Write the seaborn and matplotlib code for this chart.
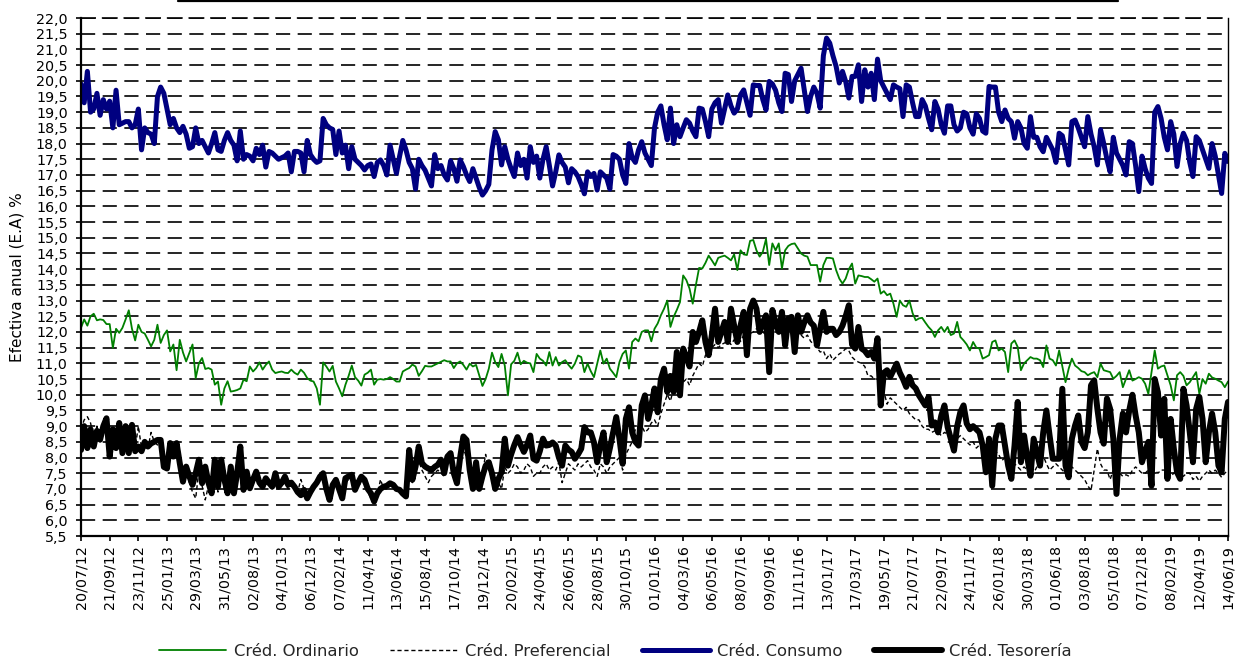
import numpy as np
import pandas as pd
import matplotlib
matplotlib.use("Agg")
import matplotlib.pyplot as plt
import seaborn as sns
from matplotlib.ticker import FixedLocator, FuncFormatter, MultipleLocator
from matplotlib.lines import Line2D

# ---------------- data (weekly) ----------------
tick_labels = ["20/07/12", "21/09/12", "23/11/12", "25/01/13", "29/03/13", "31/05/13",
               "02/08/13", "04/10/13", "06/12/13", "07/02/14", "11/04/14", "13/06/14",
               "15/08/14", "17/10/14", "19/12/14", "20/02/15", "24/04/15", "26/06/15",
               "28/08/15", "30/10/15", "01/01/16", "04/03/16", "06/05/16", "08/07/16",
               "09/09/16", "11/11/16", "13/01/17", "17/03/17", "19/05/17", "21/07/17",
               "22/09/17", "24/11/17", "26/01/18", "30/03/18", "01/06/18", "03/08/18",
               "05/10/18", "07/12/18", "08/02/19", "12/04/19", "14/06/19"]

ordinario = [
    12.13, 12.4, 12.2, 12.5, 12.58, 12.37, 12.4, 12.38, 12.25,
    12.25, 11.49, 12.1, 11.97, 12.13, 12.4, 12.69, 12.1, 11.73,
    12.23, 12.0, 11.95, 11.75, 11.54, 11.75, 12.23, 11.65, 11.9,
    12.05, 11.38, 11.6, 10.78, 11.75, 11.35, 11.06, 11.33, 11.6,
    10.53, 11.0, 11.17, 10.82, 10.85, 10.8, 10.32, 10.42, 9.68,
    10.2, 10.43, 10.1, 10.12, 10.15, 10.2, 10.48, 10.43, 10.9,
    10.74, 10.85, 11.03, 10.8, 10.95, 11.06, 10.8, 10.69, 10.72,
    10.74, 10.7, 10.69, 10.8, 10.7, 10.64, 10.8, 10.7, 10.53,
    10.45, 10.42, 10.2, 9.68, 11.03, 10.9, 10.74, 10.92, 10.42,
    10.2, 9.95, 10.32, 10.6, 10.93, 10.56, 10.45, 10.29, 10.64,
    10.7, 10.8, 10.32, 10.48, 10.5, 10.48, 10.5, 10.56, 10.5,
    10.42, 10.42, 10.74, 10.8, 10.85, 10.96, 10.9, 10.6, 10.75,
    10.92, 10.9, 10.9, 10.95, 11.0, 11.05, 11.1, 11.06, 11.06,
    10.85, 11.0, 11.06, 10.95, 10.8, 10.99, 10.9, 10.95, 10.62,
    10.28, 10.5, 10.83, 11.34, 11.04, 10.88, 11.3, 10.93, 9.98,
    10.97, 11.08, 11.34, 10.97, 11.08, 11.02, 11.0, 10.72, 11.3,
    11.15, 11.08, 10.93, 11.36, 10.93, 11.2, 10.93, 11.04, 11.1,
    10.95, 10.83, 10.99, 11.25, 11.2, 10.72, 10.99, 10.75, 10.56,
    10.99, 11.41, 10.99, 11.15, 10.83, 10.7, 10.56, 11.04, 11.3,
    11.41, 10.83, 11.68, 11.79, 11.7, 12.0, 12.05, 12.05, 11.7,
    12.1, 12.27, 12.53, 12.74, 13.0, 12.16, 12.48, 12.7, 12.95,
    13.8, 13.65, 13.38, 12.9, 13.5, 14.04, 14.02, 14.2, 14.43,
    14.28, 14.12, 14.36, 14.4, 14.43, 14.36, 14.28, 14.47, 13.97,
    14.6, 14.47, 14.45, 14.9, 14.93, 14.6, 14.4, 14.55, 14.96,
    14.13, 14.82, 14.6, 14.82, 14.02, 14.6, 14.74, 14.8, 14.82,
    14.66, 14.5, 14.43, 14.4, 14.13, 14.13, 14.13, 13.6, 14.13,
    14.36, 14.36, 14.34, 13.97, 13.7, 13.54, 13.7, 14.0, 14.18,
    13.54, 13.8, 13.78, 13.75, 13.75, 13.68, 13.6, 13.7, 13.22,
    13.3, 13.17, 13.22, 12.9, 12.48, 13.0, 12.85, 12.8, 13.0,
    12.6, 12.37, 12.43, 12.45, 12.3, 12.16, 12.05, 11.84, 12.05,
    12.16, 12.0, 12.16, 11.9, 11.95, 12.32, 11.84, 11.73, 11.6,
    11.41, 11.68, 11.5, 11.47, 11.15, 11.2, 11.26, 11.68, 11.73,
    11.41, 11.47, 11.36, 10.72, 11.63, 11.73, 11.52, 10.78, 11.0,
    11.1, 11.2, 11.15, 11.15, 11.1, 10.88, 11.57, 11.15, 11.1,
    10.93, 11.41, 10.9, 10.4, 10.83, 11.15, 10.93, 10.85, 10.75,
    10.72, 10.62, 10.68, 10.72, 10.56, 10.99, 10.78, 10.75, 10.72,
    10.51, 10.6, 10.72, 10.24, 10.51, 10.78, 10.45, 10.5, 10.56,
    10.51, 10.35, 10.03, 10.72, 11.41, 10.83, 10.9, 10.93, 10.62,
    10.3, 9.82, 10.62, 10.72, 10.6, 10.3, 10.4, 10.56, 10.72,
    10.03, 10.5, 10.35, 10.67, 10.55, 10.51, 10.45, 10.4, 10.24,
    10.42]

preferencial = [
    8.9, 9.2, 9.3, 9.1, 8.6, 9.0, 8.5, 8.8, 9.0,
    8.3, 8.7, 8.4, 9.0, 8.3, 8.8, 8.2, 8.9, 8.3,
    9.0, 8.3, 8.4, 8.3, 8.8, 8.5, 8.4, 8.45, 8.1,
    7.7, 8.3, 8.1, 8.4, 8.0, 7.3, 7.5, 7.2, 6.9,
    6.7, 7.6, 7.1, 6.65, 7.1, 6.8, 7.7, 6.9, 7.6,
    7.0, 6.8, 7.4, 6.8, 7.3, 7.9, 7.0, 7.4, 7.0,
    7.2, 7.4, 7.1, 7.0, 7.2, 7.1, 7.0, 7.3, 7.0,
    7.1, 7.2, 7.0, 7.1, 7.0, 6.9, 7.3, 7.0, 6.8,
    6.9, 7.0, 7.1, 7.3, 7.4, 7.0, 6.8, 7.0, 7.2,
    7.0, 6.8, 7.2, 7.3, 7.3, 7.0, 7.1, 7.2, 7.2,
    6.9, 6.7, 6.6, 6.8, 7.3, 7.0, 7.0, 7.1, 7.05,
    7.0, 6.9, 6.85, 6.8, 7.7, 7.2, 7.5, 7.9, 7.6,
    7.4, 7.2, 7.4, 7.5, 7.6, 7.5, 7.4, 7.8, 7.9,
    7.3, 7.1, 7.9, 8.3, 8.0, 7.5, 7.0, 7.6, 7.1,
    7.5, 8.1, 7.6, 7.3, 6.95, 7.2, 7.0, 7.7, 7.5,
    7.6, 7.8, 7.7, 7.5, 7.6, 7.8, 7.7, 7.4, 7.5,
    7.5, 7.7, 7.8, 7.6, 7.7, 7.6, 7.85, 7.2, 7.5,
    7.8, 7.7, 7.6, 7.8, 7.7, 7.8, 7.9, 7.7, 7.6,
    7.4, 7.8, 7.7, 7.5, 7.7, 7.8, 7.9, 8.0, 7.6,
    8.1, 8.3, 8.5, 8.9, 9.0, 9.0, 8.8, 8.9, 9.1,
    9.2, 9.0, 9.4, 9.7, 10.0, 9.8, 10.2, 10.1, 10.3,
    10.4, 10.5, 10.3, 10.6, 10.8, 11.0, 10.9, 11.26, 11.3,
    11.5, 11.6, 11.5, 11.6, 11.65, 11.7, 11.6, 11.75, 11.8,
    11.7, 11.9, 11.8, 11.95, 12.0, 12.1, 12.1, 12.0, 11.9,
    11.5, 12.1, 12.1, 12.0, 12.1, 11.9, 12.0, 12.0, 11.8,
    12.0, 11.9, 11.8, 11.9, 11.7, 11.6, 11.5, 11.36, 11.4,
    11.15, 11.3, 11.1, 11.2, 11.3, 11.36, 11.47, 11.4, 11.2,
    11.1, 11.04, 11.0, 10.9, 10.6, 10.6, 10.5, 10.5, 10.3,
    10.1, 9.7, 9.9, 9.8, 9.7, 9.6, 9.5, 9.6, 9.4,
    9.3, 9.2, 9.2, 9.0, 8.9, 8.9, 8.8, 8.85, 8.8,
    8.7, 8.8, 8.75, 8.6, 8.5, 8.6, 8.7, 8.6, 8.5,
    8.4, 8.5, 8.3, 8.4, 8.3, 7.85, 8.3, 8.1, 8.2,
    8.1, 7.9, 8.0, 7.6, 7.4, 7.8, 7.7, 7.6, 7.7,
    7.6, 7.4, 7.5, 7.7, 8.0, 8.06, 7.8, 7.6, 7.7,
    7.8, 7.7, 7.6, 7.5, 7.6, 7.7, 7.6, 7.5, 7.4,
    7.3, 7.1, 6.95, 7.6, 8.28, 7.8, 7.6, 7.6, 7.3,
    7.6, 7.7, 7.5, 7.4, 7.45, 7.4, 7.6, 7.7, 7.6,
    7.5, 7.5, 7.6, 7.6, 7.6, 7.5, 7.6, 7.6, 7.5,
    7.4, 7.5, 7.6, 7.5, 7.4, 7.5, 7.5, 7.3, 7.4,
    7.25, 7.4, 7.5, 7.6, 7.5, 7.6, 7.5, 7.37, 7.5,
    7.6]

consumo = [
    19.9, 19.3, 20.3, 19.0, 19.1, 19.6, 18.9, 19.4, 19.1,
    19.35, 18.5, 19.7, 18.6, 18.65, 18.7, 18.7, 18.5, 18.6,
    19.1, 17.8, 18.5, 18.35, 18.3, 18.0, 19.5, 19.8, 19.6,
    19.1, 18.6, 18.8, 18.5, 18.35, 18.55, 18.3, 17.85, 17.9,
    18.5, 18.0, 18.1, 17.9, 17.7, 18.0, 18.35, 17.8, 17.75,
    18.1, 18.35, 18.1, 17.95, 17.45, 18.4, 17.5, 17.65, 17.6,
    17.45, 17.85, 17.65, 17.95, 17.25, 17.75, 17.7, 17.6, 17.5,
    17.55, 17.6, 17.7, 17.1, 17.75, 17.75, 17.7, 17.1, 18.1,
    17.65, 17.5, 17.4, 17.45, 18.8, 18.6, 18.5, 18.45, 17.65,
    18.4, 17.7, 17.95, 17.2, 17.9, 17.5, 17.4, 17.3, 17.16,
    17.3, 17.35, 16.95, 17.4, 17.48, 17.3, 17.0, 17.95, 17.5,
    17.05, 17.6, 18.1, 17.8, 17.4, 17.2, 16.55, 17.5, 17.3,
    17.15, 16.9, 16.65, 17.65, 17.2, 17.3, 17.0, 16.84, 17.45,
    17.2, 16.8, 17.48, 17.27, 17.0, 16.79, 17.2, 16.9, 16.6,
    16.36, 16.5, 16.7, 17.8, 18.38, 18.12, 17.32, 17.9, 17.5,
    17.2, 16.95, 17.7, 17.3, 17.5, 16.9, 17.9, 17.4, 17.6,
    16.9, 17.5, 17.9, 17.3, 16.65, 17.1, 17.64, 17.4, 17.25,
    16.75, 17.2, 17.1, 16.95, 16.7, 16.4, 17.1, 16.95, 17.05,
    16.52, 17.1, 17.0, 16.9, 16.55, 17.65, 17.6, 17.5, 17.0,
    16.73, 18.0, 17.55, 17.4, 17.8, 18.06, 17.7, 17.5, 17.3,
    18.5, 19.0, 19.2, 18.6, 18.12, 19.13, 18.0, 18.6, 18.22,
    18.5, 18.76, 18.65, 18.4, 18.22, 19.13, 19.1, 18.7, 18.22,
    19.1, 19.3, 19.4, 18.65, 19.1, 19.55, 19.2, 18.97, 19.1,
    19.55, 19.71, 19.3, 18.9, 19.87, 19.85, 19.85, 19.4, 19.07,
    19.98, 19.9, 19.7, 19.3, 19.02, 20.24, 20.2, 19.34, 20.0,
    20.2, 20.4, 19.7, 19.02, 19.5, 19.8, 19.6, 19.13, 20.8,
    21.36, 21.2, 20.8, 20.46, 19.93, 20.3, 19.98, 19.45, 20.14,
    20.14, 20.51, 19.34, 20.35, 19.8, 20.24, 19.4, 20.69, 20.0,
    19.8, 19.6, 19.4, 19.87, 19.8, 19.75, 18.86, 19.87, 19.8,
    19.3, 18.86, 18.86, 19.4, 19.2, 18.8, 18.44, 19.34, 19.1,
    18.6, 18.33, 19.2, 19.2, 18.6, 18.4, 18.5, 19.0, 18.95,
    18.5, 18.3, 18.95, 18.8, 18.4, 18.33, 19.82, 19.8, 19.8,
    19.0, 18.7, 19.07, 18.8, 18.7, 18.17, 18.7, 18.5, 18.0,
    17.85, 18.86, 18.2, 18.2, 17.9, 17.74, 18.2, 18.0, 17.8,
    17.4, 18.33, 18.25, 17.8, 17.32, 18.7, 18.75, 18.5, 18.2,
    17.9, 18.86, 18.3, 17.9, 17.32, 18.44, 18.0, 17.5, 17.1,
    18.2, 17.7, 17.5, 17.3, 17.0, 18.06, 18.0, 17.3, 16.47,
    17.6, 17.2, 16.9, 16.73, 19.0, 19.18, 18.8, 18.2, 17.8,
    18.7, 18.3, 17.27, 18.0, 18.33, 18.1, 17.4, 16.95, 18.22,
    18.1, 17.8, 17.5, 17.21, 18.0, 17.6, 17.0, 16.41, 17.69,
    17.43]

tesoreria = [
    8.24, 9.0, 8.3, 8.9, 8.35, 8.85, 8.57, 9.0, 9.25,
    8.03, 8.9, 8.3, 9.1, 8.14, 9.0, 8.14, 9.04, 8.2,
    8.35, 8.2, 8.5, 8.35, 8.45, 8.5, 8.56, 8.56, 7.7,
    7.65, 8.46, 8.03, 8.46, 7.82, 7.23, 7.71, 7.4, 7.13,
    7.5, 7.93, 7.18, 7.71, 7.2, 6.86, 7.93, 7.07, 7.93,
    7.3, 6.86, 7.71, 6.86, 7.5, 8.35, 6.97, 7.55, 7.02,
    7.3, 7.55, 7.2, 7.07, 7.34, 7.2, 7.07, 7.5, 7.07,
    7.2, 7.39, 7.13, 7.2, 7.07, 6.9, 6.8, 6.97, 6.7,
    6.9, 7.07, 7.2, 7.39, 7.5, 7.0, 6.65, 7.13, 7.29,
    7.0, 6.7, 7.34, 7.4, 7.45, 6.97, 7.2, 7.39, 7.29,
    7.0, 6.86, 6.6, 6.86, 7.0, 7.07, 7.1, 7.18, 7.13,
    7.0, 6.97, 6.85, 6.76, 8.24, 7.29, 7.71, 8.35, 7.82,
    7.71, 7.65, 7.6, 7.7, 7.77, 7.93, 7.5, 8.03, 8.14,
    7.5, 7.18, 8.0, 8.67, 8.56, 7.6, 7.0, 7.85, 7.0,
    7.4, 7.74, 7.85, 7.5, 7.0, 7.32, 7.53, 8.6, 7.74,
    8.1, 8.4, 8.65, 8.4, 8.18, 8.4, 8.7, 7.96, 7.9,
    8.2, 8.6, 8.38, 8.4, 8.48, 8.38, 8.0, 7.74, 8.38,
    8.25, 8.18, 7.96, 8.1, 8.28, 8.97, 8.8, 8.8, 8.48,
    7.85, 8.4, 8.8, 7.85, 8.3, 8.8, 9.29, 8.6, 7.8,
    9.23, 9.6, 8.8, 8.5, 8.38, 9.66, 9.98, 9.23, 9.66,
    10.2, 9.44, 10.5, 10.83, 10.09, 10.6, 10.09, 11.36, 9.98,
    11.47, 11.2, 10.9, 12.0, 11.68, 12.0, 12.37, 11.68, 11.26,
    11.9, 12.74, 11.68, 12.0, 12.32, 11.68, 12.74, 12.2, 11.68,
    12.2, 12.64, 11.26, 12.74, 13.0, 12.74, 12.0, 12.3, 12.53,
    10.72, 12.7, 12.3, 12.0, 12.64, 11.57, 12.43, 12.48, 11.36,
    12.53, 12.0, 12.3, 12.53, 12.3, 12.2, 11.57, 12.1, 12.64,
    12.0, 12.1, 12.1, 11.9, 12.0, 12.2, 12.5, 12.85, 11.6,
    11.47, 12.16, 11.47, 11.4, 11.26, 11.36, 11.15, 11.8, 9.66,
    10.7, 10.78, 10.57, 10.78, 10.99, 10.7, 10.5, 10.25, 10.57,
    10.3, 10.2, 9.98, 9.82, 9.66, 9.93, 9.02, 9.12, 8.8,
    9.33, 9.66, 8.97, 8.6, 8.22, 9.0, 9.45, 9.66, 9.08,
    8.9, 9.0, 8.9, 8.8, 8.38, 7.53, 8.6, 7.1, 8.6,
    9.02, 9.02, 8.38, 7.74, 7.32, 8.38, 9.77, 7.85, 8.7,
    8.0, 7.42, 8.6, 8.17, 7.74, 8.8, 9.5, 8.7, 7.96,
    7.96, 7.96, 10.19, 7.74, 7.37, 8.6, 9.02, 9.34, 8.5,
    8.3, 8.8, 10.3, 10.46, 9.55, 8.8, 8.44, 9.88, 9.55,
    8.6, 6.84, 8.6, 9.4, 8.8, 9.5, 10.0, 9.34, 8.8,
    7.85, 8.2, 8.5, 7.1, 10.5, 10.08, 8.7, 9.87, 7.32,
    9.23, 8.28, 7.53, 7.32, 10.19, 9.66, 8.8, 7.85, 9.55,
    9.93, 9.23, 7.85, 8.8, 9.4, 8.8, 7.74, 7.53, 9.23,
    9.77]

series_names = ["Créd. Ordinario", "Créd. Preferencial", "Créd. Consumo", "Créd. Tesorería"]
series_values = [ordinario, preferencial, consumo, tesoreria]
y_label = "Efectiva anual (E.A) %"

# ---------------- styling ----------------
sns.set_style("white")
plt.rcParams["font.family"] = ["DejaVu Sans"]

W, H = 1238, 662
fig = plt.figure(figsize=(W / 100, H / 100), dpi=100)
L, R, T, B = 81, 1228, 18, 536
ax = fig.add_axes([L / W, 1 - B / H, (R - L) / W, (B - T) / H])

styles = [
    dict(color="#008000", linewidth=1.3, linestyle="-"),
    dict(color="#000000", linewidth=1.0, linestyle=(0, (3, 2))),
    dict(color="#000080", linewidth=3.6, linestyle="-"),
    dict(color="#000000", linewidth=4.3, linestyle="-"),
]

for name, vals, st in zip(series_names, series_values, styles):
    df = pd.DataFrame({"semana": np.arange(len(vals)), "tasa": vals})
    sns.lineplot(data=df, x="semana", y="tasa", ax=ax, errorbar=None,
                 label=name, solid_joinstyle="round", **st)

n_weeks = len(consumo) - 1
ax.set_xlim(0, n_weeks)
ax.set_ylim(5.5, 22.0)

grid_ls = (0, (8.5, 4.5))
ax.yaxis.set_major_locator(MultipleLocator(0.5))
ax.yaxis.set_major_formatter(FuncFormatter(lambda v, p: f"{v:.1f}".replace(".", ",")))
ax.yaxis.grid(True, color="black", linestyle=grid_ls, linewidth=1.2)
ax.xaxis.grid(False)
ax.set_axisbelow(True)

tick_pos = np.arange(0, len(tick_labels) * 9, 9)
ax.xaxis.set_major_locator(FixedLocator(tick_pos))
ax.set_xticklabels(tick_labels, rotation=90)

ax.tick_params(axis="y", which="major", direction="out", length=3.5, width=1.2,
               pad=6, labelsize=10.3, colors="black", left=True)
ax.tick_params(axis="x", which="major", direction="out", length=3.5, width=1.2,
               pad=3, labelsize=10.3, colors="black", bottom=True)

for side in ["left", "bottom"]:
    ax.spines[side].set_color("black")
    ax.spines[side].set_linewidth(1.6)
ax.spines["right"].set_color("black")
ax.spines["right"].set_linewidth(1.0)
ax.spines["top"].set_color("black")
ax.spines["top"].set_linewidth(1.2)
ax.spines["top"].set_linestyle(grid_ls)

ax.set_xlabel("")
ax.set_ylabel(y_label, fontsize=11, color="black")
ax.yaxis.set_label_coords(-0.049, 0.5)

handles, labels = ax.get_legend_handles_labels()
if ax.get_legend() is not None:
    ax.get_legend().remove()
fig.legend(handles, labels, loc="center", bbox_to_anchor=(0.497, 0.016), ncol=4,
           frameon=False, fontsize=11.8, handlelength=4.1, handletextpad=0.45,
           columnspacing=1.95, borderaxespad=0)

# remnant of the title box border at the very top
fig.add_artist(Line2D([178 / W, 1118 / W], [1 - 1.2 / H, 1 - 1.2 / H],
                      color="black", linewidth=1.6, transform=fig.transFigure))

fig.savefig("out.png", dpi=100, facecolor="white")
